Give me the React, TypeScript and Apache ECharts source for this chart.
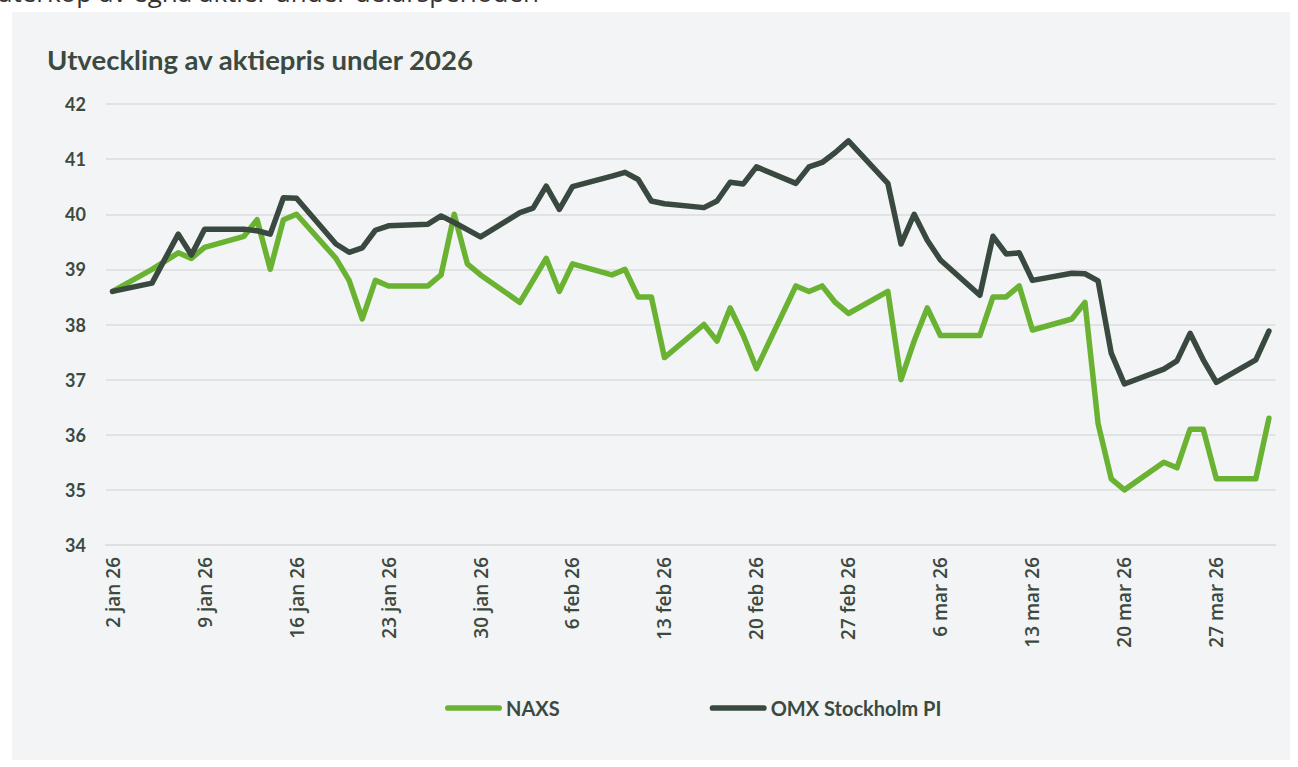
import React, { useEffect, useRef } from "react";
import * as echarts from "echarts";

const titleText = "Utveckling av aktiepris under 2026";
const topCutText = "återköp av egna aktier under delårsperioden";
const seriesNames = ["NAXS", "OMX Stockholm PI"];
const monthNames = ["jan", "feb", "mar", "apr"];
const firstDay = "2026-01-02";
const lastDay = "2026-03-31";

const tradingDays = [
  "2026-01-02", "2026-01-05", "2026-01-07", "2026-01-08", "2026-01-09",
  "2026-01-12", "2026-01-13", "2026-01-14", "2026-01-15", "2026-01-16",
  "2026-01-19", "2026-01-20", "2026-01-21", "2026-01-22", "2026-01-23",
  "2026-01-26", "2026-01-27", "2026-01-28", "2026-01-29", "2026-01-30",
  "2026-02-02", "2026-02-03", "2026-02-04", "2026-02-05", "2026-02-06",
  "2026-02-09", "2026-02-10", "2026-02-11", "2026-02-12", "2026-02-13",
  "2026-02-16", "2026-02-17", "2026-02-18", "2026-02-19", "2026-02-20",
  "2026-02-23", "2026-02-24", "2026-02-25", "2026-02-26", "2026-02-27",
  "2026-03-02", "2026-03-03", "2026-03-04", "2026-03-05", "2026-03-06",
  "2026-03-09", "2026-03-10", "2026-03-11", "2026-03-12", "2026-03-13",
  "2026-03-16", "2026-03-17", "2026-03-18", "2026-03-19", "2026-03-20",
  "2026-03-23", "2026-03-24", "2026-03-25", "2026-03-26", "2026-03-27",
  "2026-03-30", "2026-03-31",
];

const naxsValues = [
  38.6, 39.0, 39.3, 39.2, 39.4,
  39.6, 39.9, 39.0, 39.9, 40.0,
  39.2, 38.8, 38.1, 38.8, 38.7,
  38.7, 38.9, 40.0, 39.1, 38.9,
  38.4, 38.8, 39.2, 38.6, 39.1,
  38.9, 39.0, 38.5, 38.5, 37.4,
  38.0, 37.7, 38.3, 37.8, 37.2,
  38.7, 38.6, 38.7, 38.4, 38.2,
  38.6, 37.0, 37.7, 38.3, 37.8,
  37.8, 38.5, 38.5, 38.7, 37.9,
  38.1, 38.4, 36.2, 35.2, 35.0,
  35.5, 35.4, 36.1, 36.1, 35.2,
  35.2, 36.3,
];

const omxValues = [
  38.6, 38.75, 39.64, 39.26, 39.73,
  39.73, 39.7, 39.64, 40.3, 40.29,
  39.46, 39.31, 39.39, 39.71, 39.79,
  39.82, 39.97, 39.85, 39.72, 39.59,
  40.03, 40.11, 40.51, 40.09, 40.5,
  40.69, 40.76, 40.63, 40.24, 40.19,
  40.12, 40.24, 40.58, 40.55, 40.86,
  40.56, 40.86, 40.94, 41.12, 41.33,
  40.56, 39.46, 40.0, 39.53, 39.17,
  38.53, 39.6, 39.28, 39.3, 38.8,
  38.93, 38.92, 38.79, 37.48, 36.92,
  37.19, 37.34, 37.84, 37.36, 36.95,
  37.36, 37.88,
];

const TEXT = "#3b4a40";
const GREEN = "#6ab232";
const DARK = "#39493f";
const FONT = "Lato, 'Noto Sans', sans-serif";
const AXISFONT = "'Open Sans', 'Noto Sans', sans-serif";

function buildCalendar(): string[] {
  const out: string[] = [];
  const d = new Date(firstDay + "T00:00:00Z");
  const end = new Date(lastDay + "T00:00:00Z");
  while (d.getTime() <= end.getTime()) {
    out.push(d.toISOString().slice(0, 10));
    d.setUTCDate(d.getUTCDate() + 1);
  }
  return out;
}

function fmtDay(iso: string): string {
  const [y, m, day] = iso.split("-");
  return `${parseInt(day, 10)} ${monthNames[parseInt(m, 10) - 1]} ${y.slice(2)}`;
}

export default function App() {
  const ref = useRef<HTMLDivElement>(null);

  useEffect(() => {
    document.body.style.margin = "0";
    if (!ref.current) return;
    const chart = echarts.init(ref.current, undefined, { renderer: "svg" });
    const calendar = buildCalendar();
    const naxsMap = new Map<string, number>();
    const omxMap = new Map<string, number>();
    tradingDays.forEach((t, i) => {
      naxsMap.set(t, naxsValues[i]);
      omxMap.set(t, omxValues[i]);
    });
    const naxsData = calendar.map((c) => (naxsMap.has(c) ? naxsMap.get(c)! : null));
    const omxData = calendar.map((c) => (omxMap.has(c) ? omxMap.get(c)! : null));

    const legendIcon = "path://M3,0 H57 A3,3 0 0 1 57,6 H3 A3,3 0 0 1 3,0 Z";

    chart.setOption({
      animation: false,
      backgroundColor: "#ffffff",
      textStyle: { fontFamily: FONT },
      graphic: [
        {
          type: "rect",
          shape: { x: 12, y: 12, width: 1278, height: 748 },
          style: { fill: "#f3f4f6" },
          z: -10,
          silent: true,
        },
        {
          type: "text",
          x: -2,
          y: 5,
          style: {
            text: topCutText,
            fontSize: 26,
            fontFamily: "'Open Sans', sans-serif",
            fill: "#333333",
            textVerticalAlign: "bottom",
          },
          z: -5,
          silent: true,
        },
        {
          type: "text",
          x: 47,
          y: 59,
          style: {
            text: titleText,
            fontSize: 27.5,
            fontWeight: "bold",
            fontFamily: FONT,
            fill: TEXT,
            textVerticalAlign: "middle",
          },
        },
      ],
      legend: {
        left: 440,
        top: 692,
        itemWidth: 57,
        itemHeight: 6,
        itemGap: 150,
        icon: legendIcon,
        textStyle: { color: TEXT, fontSize: 20, fontWeight: "bold", fontFamily: FONT, lineHeight: 22, padding: [0, 0, 0, -1] },
        data: seriesNames,
      },
      grid: { left: 106, right: 22.5, top: 104, bottom: 222, containLabel: false },
      xAxis: {
        type: "category",
        data: calendar,
        boundaryGap: true,
        axisLine: { lineStyle: { color: "#dedfe1", width: 2 } },
        axisTick: { interval: 6, length: 6, lineStyle: { color: "#d8d9db", width: 1.5 } },
        axisLabel: {
          interval: 6,
          rotate: 90,
          margin: 12,
          color: TEXT,
          fontSize: 19,
          fontWeight: 600,
          fontFamily: AXISFONT,
          formatter: (v: string) => fmtDay(v),
        },
        splitLine: { show: false },
      },
      yAxis: {
        type: "value",
        min: 34,
        max: 42,
        interval: 1,
        axisLine: { show: false },
        axisTick: { show: false },
        axisLabel: { color: TEXT, fontSize: 18, fontWeight: "bold", fontFamily: FONT, margin: 20 },
        splitLine: { lineStyle: { color: "#e1e2e4", width: 2 } },
      },
      series: [
        {
          name: seriesNames[0],
          type: "line",
          data: naxsData,
          connectNulls: true,
          symbol: "none",
          color: GREEN,
          lineStyle: { color: GREEN, width: 5.5, cap: "round", join: "round" },
        },
        {
          name: seriesNames[1],
          type: "line",
          data: omxData,
          connectNulls: true,
          symbol: "none",
          color: DARK,
          lineStyle: { color: DARK, width: 5.5, cap: "round", join: "round" },
        },
      ],
    });
    return () => chart.dispose();
  }, []);

  return <div ref={ref} style={{ width: 1298, height: 767 }} />;
}
